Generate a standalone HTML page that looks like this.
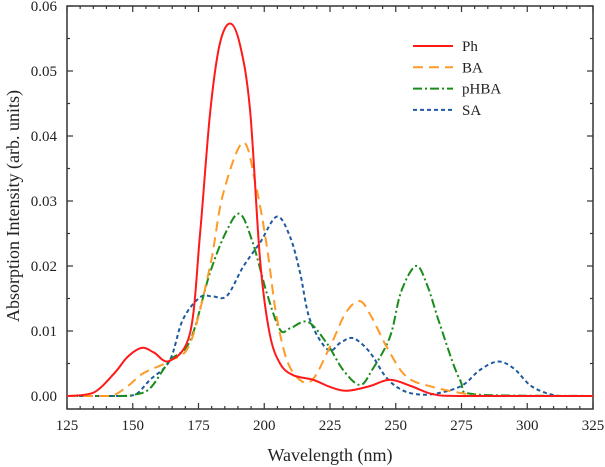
<!DOCTYPE html>
<html><head><meta charset="utf-8"><style>
body{margin:0;background:#fff}
svg{display:block;font-family:"Liberation Serif",serif}
</style></head><body>
<svg id="chart" width="605" height="467">
<g id="axes"></g><g id="series"></g><g id="legend"></g>
</svg>
<script>
const xTicks=[125,150,175,200,225,250,275,300,325];
const yTicks=[0,0.01,0.02,0.03,0.04,0.05,0.06];
const yTickLabels=["0.00","0.01","0.02","0.03","0.04","0.05","0.06"];
const seriesNames=["Ph","BA","pHBA","SA"];
const phX=[125,135,143,148,153.4,158,164,171.8,175.6,179.4,183,187,190.8,194.6,198.4,202,206,211,218.5,225,231.3,240,247.8,256,264,275,325];
const phY=[0,0.0005,0.0035,0.006,0.0074,0.0067,0.0054,0.0097,0.025,0.0435,0.054,0.0573,0.054,0.044,0.021,0.0097,0.005,0.0032,0.0025,0.0014,0.0008,0.0015,0.0025,0.0015,0.0003,0,0];
const baX=[125,141,148,154,164,171.8,179.4,184.3,192,197,201,204.8,209.8,217.4,225,231,236.4,241,246.5,254,264,277,285,325];
const baY=[0,0,0.0015,0.0035,0.0054,0.0081,0.020,0.031,0.039,0.032,0.023,0.012,0.0044,0.0022,0.0076,0.0128,0.0146,0.012,0.0076,0.003,0.0014,0.0003,0,0];
const phbaX=[125,145,150.6,156.6,164,171.8,179.4,185.8,190.8,195.7,201,206,209.8,216.6,223.8,230,236.4,241,247.8,252,257.7,262,266.8,274.4,281,325];
const phbaY=[0,0,0.0002,0.0012,0.0054,0.0085,0.019,0.0255,0.028,0.0235,0.0158,0.0102,0.0104,0.0114,0.0081,0.004,0.0017,0.004,0.0091,0.016,0.020,0.017,0.011,0.0025,0.0002,0];
const saX=[125,145,151,156.6,164,169,175.6,180.5,185.8,192,198.4,204.8,209.8,213.6,217.4,224.2,229,233.8,240,246.5,253,260.4,268,275.6,282,288.9,295,302,312,325];
const saY=[0,0,0.0002,0.0025,0.0054,0.0117,0.0152,0.0153,0.0154,0.0199,0.0236,0.0276,0.0245,0.019,0.0117,0.0071,0.0082,0.0089,0.0068,0.0028,0.0008,0.0002,0.0006,0.0017,0.004,0.0053,0.0042,0.0014,0,0];

const L=67,R=593,T=6,B=409;
const xs=v=>L+(v-125)*(R-L)/200;
const ys=v=>396-v*6500;
const NS="http://www.w3.org/2000/svg";
function mk(parent,tag,attrs){const e=document.createElementNS(NS,tag);for(const k in attrs)e.setAttribute(k,attrs[k]);parent.appendChild(e);return e;}
const axes=document.getElementById('axes');
const frame=mk(axes,'rect',{x:L,y:T,width:R-L,height:B-T,fill:'none',stroke:'#333','stroke-width':1.5});


// x ticks
for(let v=125;v<=325;v+=5){
  const maj=(v-125)%25===0,len=maj?6:3,x=xs(v);
  const t1=mk(axes,'line',{x1:x,x2:x,y1:B,y2:B-len,stroke:'#333','stroke-width':1.2});
  
  
  mk(axes,'line',{x1:x,x2:x,y1:T,y2:T+len,stroke:'#333','stroke-width':1.2});
}
xTicks.forEach(v=>{
  const t=mk(axes,'text',{x:xs(v),y:430,'text-anchor':'middle','font-size':15,fill:'#222'});
  t.textContent=v;
  
  
});
for(let i=0;i<=12;i++){
  const v=i*0.005,maj=i%2===0,len=maj?6:3,y=ys(v);
  const t1=mk(axes,'line',{x1:L,x2:L+len,y1:y,y2:y,stroke:'#333','stroke-width':1.2});
  
  
  mk(axes,'line',{x1:R,x2:R-len,y1:y,y2:y,stroke:'#333','stroke-width':1.2});
}
yTicks.forEach((v,i)=>{
  const t=mk(axes,'text',{x:57,y:ys(v)+5,'text-anchor':'end','font-size':15,fill:'#222'});
  t.textContent=yTickLabels[i];
  
  
});
const xt=mk(axes,'text',{x:330,y:461,'text-anchor':'middle','font-size':18,fill:'#222'});
xt.textContent='Wavelength (nm)';


const yt=mk(axes,'text',{x:0,y:0,'text-anchor':'middle','font-size':18,fill:'#222',transform:'translate(19,206) rotate(-90)'});
yt.textContent='Absorption Intensity (arb. units)';



function pathFrom(X,Y){
  const p=X.map((x,i)=>[xs(x),ys(Y[i])]);
  let d=`M${p[0][0]},${p[0][1]}`;
  for(let i=0;i<p.length-1;i++){
    const p0=p[Math.max(0,i-1)],p1=p[i],p2=p[i+1],p3=p[Math.min(p.length-1,i+2)];
    let c1x=p1[0]+(p2[0]-p0[0])/6,c1y=p1[1]+(p2[1]-p0[1])/6;
    let c2x=p2[0]-(p3[0]-p1[0])/6,c2y=p2[1]-(p3[1]-p1[1])/6;
    c1y=Math.min(c1y,396);c2y=Math.min(c2y,396);
    d+=` C${c1x},${c1y} ${c2x},${c2y} ${p2[0]},${p2[1]}`;
  }
  return d;
}
const styles=[
 {c:'#ff1a1a',dash:'',w:2},
 {c:'#ff9a26',dash:'10,6',w:2},
 {c:'#1a8c1a',dash:'9,3,2,3',w:2},
 {c:'#1f5aa0',dash:'4,3',w:2}];
const data=[[phX,phY],[baX,baY],[phbaX,phbaY],[saX,saY]];
const sg=document.getElementById('series');
const order=[3,2,1,0];
order.forEach(i=>{
  const st=styles[i];
  const p=mk(sg,'path',{d:pathFrom(data[i][0],data[i][1]),fill:'none',stroke:st.c,'stroke-width':st.w,'stroke-dasharray':st.dash});
  
  
});
const lg=document.getElementById('legend');
seriesNames.forEach((n,i)=>{
  const y=46+i*21.3,st=styles[i];
  const g=mk(lg,'g',{});
  
  
  mk(g,'line',{x1:413,x2:453,y1:y,y2:y,stroke:st.c,'stroke-width':2,'stroke-dasharray':st.dash});
  const t=mk(g,'text',{x:462,y:y+5,'font-size':15,fill:'#222'});
  t.textContent=n;
});
</script>
</body></html>
